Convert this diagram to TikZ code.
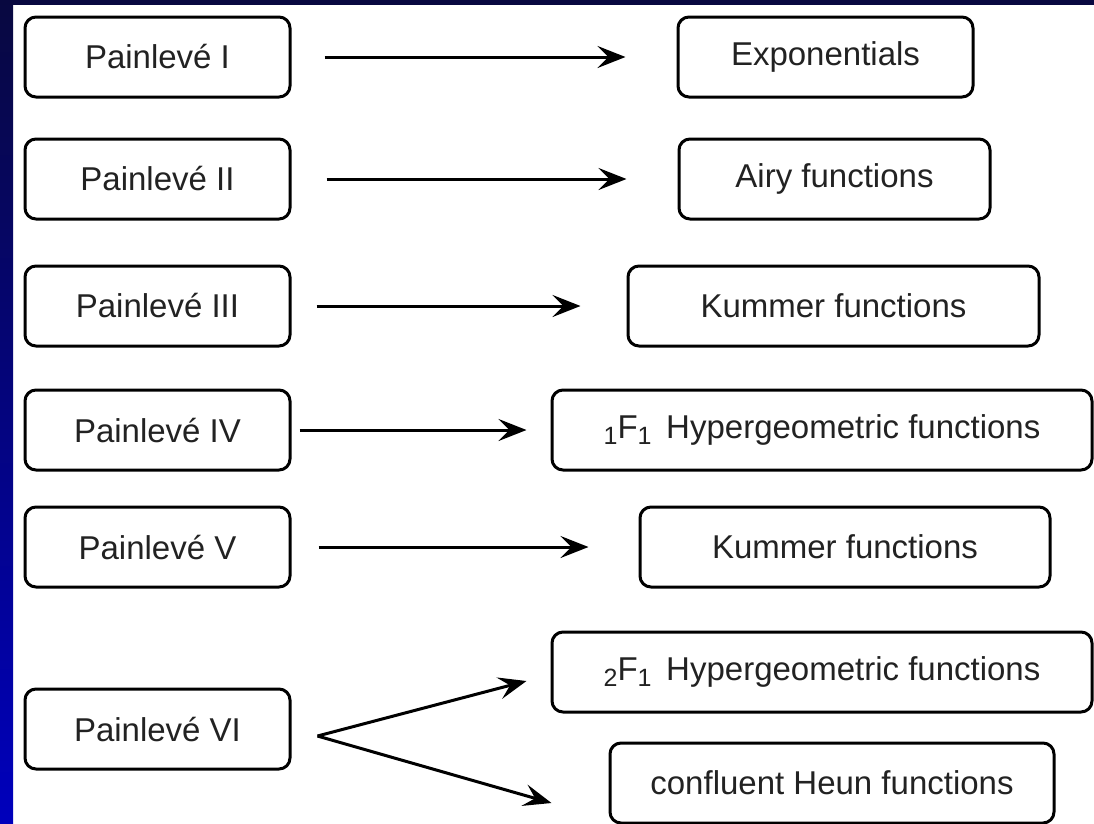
\documentclass[tikz,border=0pt]{standalone}
\usepackage{fontspec}
\setmainfont{Liberation Sans}
\usetikzlibrary{arrows.meta}

\definecolor{navytop}{RGB}{8,8,64}
\definecolor{bluebot}{RGB}{0,0,188}
\definecolor{boxtext}{RGB}{34,34,34}

\newcommand{\lowidx}[1]{\raisebox{-6pt}{\fontsize{25}{28}\selectfont #1}}

\begin{document}
\begin{tikzpicture}[x=1pt, y=-1pt,
        eqn/.style={rectangle, rounded corners=11pt, draw=black, line width=3pt, fill=white,
            minimum height=80pt, inner sep=0pt, text=boxtext,
            font=\fontsize{33}{38}\selectfont},
        func/.style={eqn},
        arr/.style={line width=3pt, -{Stealth[length=28pt, width=22pt, inset=11pt]}},
    ]
    % background and frame strips
    \useasboundingbox (0,0) rectangle (1094,823);
    \fill[white] (0,0) rectangle (1094,823);
    \shade[top color=navytop, bottom color=bluebot] (0,0) rectangle (13,823);
    \fill[navytop] (0,0) rectangle (1094,5);

    % Left column
    \node[eqn, minimum width=265pt] (p1) at (157.5,57) {Painlevé I};
    \node[eqn, minimum width=265pt] (p2) at (157.5,179) {Painlevé II};
    \node[eqn, minimum width=265pt] (p3) at (157.5,306) {Painlevé III};
    \node[eqn, minimum width=265pt] (p4) at (157.5,430) {Painlevé IV};
    \node[eqn, minimum width=265pt] (p5) at (157.5,547) {Painlevé V};
    \node[eqn, minimum width=265pt] (p6) at (157.5,729) {Painlevé VI};

    % Right column
    \node[func, minimum width=295pt] (expo) at (825.5,57) {Exponentials};
    \node[func, minimum width=311pt] (airy) at (834.5,179) {Airy functions};
    \node[func, minimum width=411pt] (kum3) at (833.5,306) {Kummer functions};
    \node[func, minimum width=540pt] (hyp11) at (822,430) {\lowidx{1}F\lowidx{1}\, Hypergeometric functions};
    \node[func, minimum width=410pt] (kum5) at (845,547) {Kummer functions};
    \node[func, minimum width=540pt] (hyp21) at (822,672) {\lowidx{2}F\lowidx{1}\, Hypergeometric functions};
    \node[func, minimum width=444pt] (heun) at (832,783) {confluent Heun functions};

    % Arrows
    \draw[arr, shorten <=33pt, shorten >=51pt] (p1.east) -- (expo.west);
    \draw[arr, shorten <=35pt, shorten >=51pt] (p2.east) -- (airy.west);
    \draw[arr, shorten <=25pt, shorten >=46pt] (p3.east) -- (kum3.west);
    \draw[arr, shorten <=8pt, shorten >=24pt] (p4.east) -- (hyp11.west);
    \draw[arr, shorten <=27pt, shorten >=50pt] (p5.east) -- (kum5.west);

    \coordinate (fork) at ([shift={(26,7)}]p6.east);
    \draw[arr] (fork) -- ([shift={(-24,9)}]hyp21.west);
    \draw[arr] (fork) -- ([shift={(-57,20)}]heun.west);
\end{tikzpicture}
\end{document}
